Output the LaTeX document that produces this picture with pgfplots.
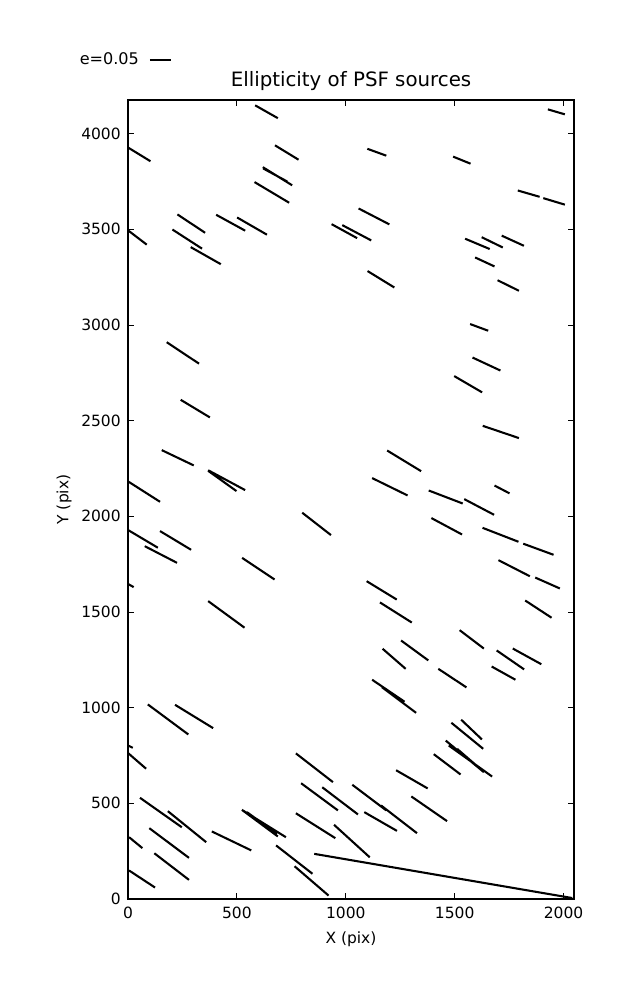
\documentclass[border=0pt]{standalone}
\usepackage{pgfplots}
\usepackage{pgfplotstable}
\pgfplotsset{compat=1.18}
\pgfplotsset{legend image code/.code={\draw[#1] (0in,0in) -- (0.21in,0in);}}
\usepackage{fontspec}
\setmainfont{DejaVu Sans}

\pgfplotstableread{
x y
584 4148
688 4081
nan nan
1 3927
103 3856
nan nan
675 3939
783 3864
nan nan
619 3825
754 3730
nan nan
621 3818
731 3750
nan nan
581 3747
740 3639
nan nan
227 3578
354 3482
nan nan
204 3499
340 3399
nan nan
288 3407
426 3318
nan nan
405 3576
538 3493
nan nan
501 3562
638 3472
nan nan
1 3494
86 3420
nan nan
935 3527
1052 3454
nan nan
984 3522
1117 3442
nan nan
178 2910
326 2798
nan nan
1928 4127
2006 4101
nan nan
1099 3921
1186 3885
nan nan
1493 3880
1573 3843
nan nan
1790 3703
1890 3670
nan nan
1907 3663
2006 3629
nan nan
1059 3609
1200 3526
nan nan
1548 3451
1661 3397
nan nan
1624 3459
1721 3405
nan nan
1716 3467
1818 3414
nan nan
1594 3353
1683 3306
nan nan
1100 3282
1223 3196
nan nan
1697 3234
1795 3179
nan nan
1571 3005
1654 2970
nan nan
1582 2830
1710 2762
nan nan
242 2609
376 2517
nan nan
155 2346
302 2266
nan nan
368 2241
538 2137
nan nan
368 2238
498 2132
nan nan
1 2182
147 2076
nan nan
800 2019
932 1902
nan nan
1 1928
137 1836
nan nan
147 1923
290 1825
nan nan
77 1844
225 1757
nan nan
524 1783
673 1670
nan nan
1 1646
26 1630
nan nan
368 1557
535 1418
nan nan
1498 2733
1626 2648
nan nan
1629 2473
1795 2409
nan nan
1190 2344
1346 2236
nan nan
1121 2200
1284 2109
nan nan
1381 2135
1537 2067
nan nan
1544 2090
1681 2008
nan nan
1683 2161
1752 2120
nan nan
1393 1991
1534 1905
nan nan
1628 1940
1793 1867
nan nan
1815 1857
1954 1799
nan nan
1701 1771
1845 1687
nan nan
1870 1680
1983 1623
nan nan
1096 1661
1234 1565
nan nan
1157 1550
1303 1445
nan nan
1824 1560
1945 1470
nan nan
1523 1405
1634 1309
nan nan
1254 1351
1379 1247
nan nan
1169 1308
1275 1203
nan nan
1693 1299
1819 1200
nan nan
1767 1309
1898 1227
nan nan
1670 1215
1779 1146
nan nan
1425 1203
1554 1106
nan nan
1121 1146
1270 1031
nan nan
1166 1107
1323 973
nan nan
1485 921
1631 785
nan nan
1530 937
1625 834
nan nan
1404 757
1527 651
nan nan
1459 828
1634 663
nan nan
1473 802
1672 640
nan nan
1511 785
1626 672
nan nan
1231 673
1376 578
nan nan
1301 536
1465 407
nan nan
91 1017
277 860
nan nan
216 1015
391 893
nan nan
1 802
22 790
nan nan
1 762
83 681
nan nan
771 761
941 611
nan nan
795 605
964 463
nan nan
892 584
1056 442
nan nan
1030 597
1186 463
nan nan
1162 489
1327 344
nan nan
1085 454
1235 356
nan nan
771 448
952 318
nan nan
946 388
1110 218
nan nan
855 236
2040 5
nan nan
680 280
847 132
nan nan
765 171
921 18
nan nan
55 529
247 375
nan nan
183 459
359 297
nan nan
98 370
280 215
nan nan
121 239
280 100
nan nan
5 323
66 266
nan nan
5 149
124 60
nan nan
385 353
566 254
nan nan
523 466
725 323
nan nan
523 466
688 327
nan nan
546 454
684 341
}\whiskers

\begin{document}
\begin{tikzpicture}
\useasboundingbox (-1.28in,-1.01in) rectangle (5.09in,8.99in);
\begin{axis}[
  width=4.46in, height=7.99in, scale only axis,
  xmin=0, xmax=2048, ymin=0, ymax=4176,
  xtick={0,500,1000,1500,2000},
  ytick={0,500,1000,1500,2000,2500,3000,3500,4000},
  tick align=inside,
  major tick length=0.056in,
  tick style={black, line width=0.6pt},
  axis line style={line width=0.8pt},
  /pgf/number format/1000 sep={},
  /pgf/number format/assume math mode=true,
  tick label style={font=\fontsize{11.2}{13}\selectfont},
  xticklabel style={anchor=base, yshift=-0.193in, inner sep=0pt},
  yticklabel style={anchor=east, xshift=-0.07in, inner sep=0pt},
  title={Ellipticity of PSF sources},
  title style={at={(axis description cs:0.5,1.0063)}, anchor=base, font=\fontsize{14.3}{17}\selectfont},
  xlabel={X (pix)},
  ylabel={Y (pix)},
  xlabel style={at={(axis description cs:0.5,-0.0551)}, anchor=base, font=\fontsize{11.2}{13}\selectfont},
  ylabel style={at={(axis description cs:-0.1339,0.5)}, anchor=base, font=\fontsize{11.2}{13}\selectfont},
  legend plot pos=right,
  legend style={draw=none, fill=none, at={(axis description cs:-0.108,1.05)}, anchor=west,
    inner sep=0pt, outer sep=0pt, nodes={inner sep=0pt}, column sep=0.1in,
    font=\fontsize{11.6}{13}\selectfont},
]
\addplot[black, line width=1.5pt, unbounded coords=jump] table {\whiskers};
\addlegendentry{e=0.05}
\end{axis}
\end{tikzpicture}
\end{document}
